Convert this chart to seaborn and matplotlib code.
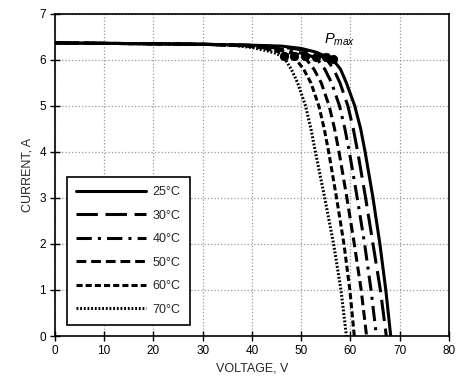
import pandas as pd
import seaborn as sns
import matplotlib.pyplot as plt

# Curvas I-V (voltaje V, corriente A)
temps = ["25°C", "30°C", "40°C", "50°C", "60°C", "70°C"]

v_25 = [0, 10, 20, 30, 40, 46, 50, 53, 55, 56.5, 58, 59.2, 60.9, 62.1, 63.0, 64.6, 66.0, 67.2, 68.2]
i_25 = [6.37, 6.36, 6.35, 6.34, 6.32, 6.3, 6.25, 6.17, 6.08, 6.0, 5.8, 5.5, 5.0, 4.5, 4.0, 3.0, 2.0, 1.0, 0]

v_30 = [0, 10, 20, 30, 40, 45, 49, 52, 55, 56.6, 57.9, 59.5, 60.6, 61.5, 63.1, 64.6, 66.1, 67.3]
i_30 = [6.37, 6.36, 6.35, 6.34, 6.32, 6.29, 6.24, 6.17, 6.04, 5.8, 5.5, 5.0, 4.5, 4.0, 3.0, 2.0, 1.0, 0]

v_40 = [0, 10, 20, 30, 40, 44, 48, 51, 53.1, 54.8, 56.2, 57.8, 58.9, 59.8, 61.4, 62.9, 64.2, 65.3]
i_40 = [6.37, 6.36, 6.35, 6.34, 6.31, 6.27, 6.2, 6.12, 6.04, 5.8, 5.5, 5.0, 4.5, 4.0, 3.0, 2.0, 1.0, 0]

v_50 = [0, 10, 20, 30, 40, 43, 46, 49, 50.8, 52.6, 54.1, 55.7, 56.8, 57.7, 59.3, 60.8, 62.2, 63.3]
i_50 = [6.37, 6.36, 6.35, 6.34, 6.3, 6.26, 6.2, 6.13, 6.05, 5.8, 5.5, 5.0, 4.5, 4.0, 3.0, 2.0, 1.0, 0]

v_60 = [0, 10, 20, 30, 38, 42, 45, 48.6, 50.5, 52.0, 53.6, 54.7, 55.6, 57.2, 58.7, 59.9, 60.8]
i_60 = [6.37, 6.36, 6.35, 6.34, 6.31, 6.26, 6.19, 6.06, 5.8, 5.5, 5.0, 4.5, 4.0, 3.0, 2.0, 1.0, 0]

v_70 = [0, 10, 20, 30, 36, 40, 43, 45, 46.6, 48.0, 49.3, 50.9, 52.0, 52.9, 54.8, 56.6, 58.1, 59.2]
i_70 = [6.37, 6.36, 6.35, 6.34, 6.32, 6.27, 6.2, 6.14, 6.04, 5.8, 5.5, 5.0, 4.5, 4.0, 3.0, 2.0, 1.0, 0]

# Puntos de potencia maxima
pmax_v = [56.4, 55.0, 53.1, 50.8, 48.6, 46.6]
pmax_i = [6.02, 6.06, 6.07, 6.08, 6.08, 6.08]

curvas = [(v_25, i_25), (v_30, i_30), (v_40, i_40), (v_50, i_50), (v_60, i_60), (v_70, i_70)]
estilos = ["", (7, 2.5), (5, 2, 1, 2), (3.2, 1.6), (2, 1), (0.6, 0.6)]

sns.set_style("white")
plt.rcParams["font.family"] = ["Liberation Sans", "DejaVu Sans"]
plt.rcParams["mathtext.fontset"] = "custom"
plt.rcParams["mathtext.it"] = "Liberation Sans:italic"

fig = plt.figure(figsize=(4.69, 3.86), dpi=100)
ax = fig.add_axes([0.117, 0.1295, 0.84, 0.8345])

for t, (v, i), d in zip(temps, curvas, estilos):
    df = pd.DataFrame({"v": v, "i": i})
    sns.lineplot(x="v", y="i", data=df, ax=ax, color="black", lw=2.2,
                 label=t, sort=False, estimator=None)
    line = ax.lines[-1]
    if d:
        line.set_dashes(d)

sns.scatterplot(x=pmax_v, y=pmax_i, ax=ax, color="black", s=38, zorder=5,
                edgecolor="black", legend=False)

ax.text(54.6, 6.36, r"$P_{max}$", fontsize=10.5, color="black")

ax.set_xlim(0, 80)
ax.set_ylim(0, 7)
ax.set_xticks(range(0, 81, 10))
ax.set_yticks(range(0, 8))
ax.grid(True, color="#999999", linestyle=":", lw=0.9)
for s in ax.spines.values():
    s.set_color("black")
    s.set_linewidth(1.2)
ax.tick_params(direction="inout", length=7, width=1, labelsize=8.5, colors="black",
               bottom=True, left=True, pad=3)
ax.set_xlabel("VOLTAGE, V", fontsize=9)
ax.set_ylabel("CURRENT, A", fontsize=9)

leg = ax.legend(loc="lower left", bbox_to_anchor=(0.03, 0.034), borderaxespad=0,
                fontsize=9, handlelength=5.6, labelspacing=0.92, fancybox=False,
                framealpha=1, edgecolor="black", borderpad=0.75, handletextpad=0.5)
leg.get_frame().set_linewidth(1.2)

plt.savefig("out.png", dpi=100)
